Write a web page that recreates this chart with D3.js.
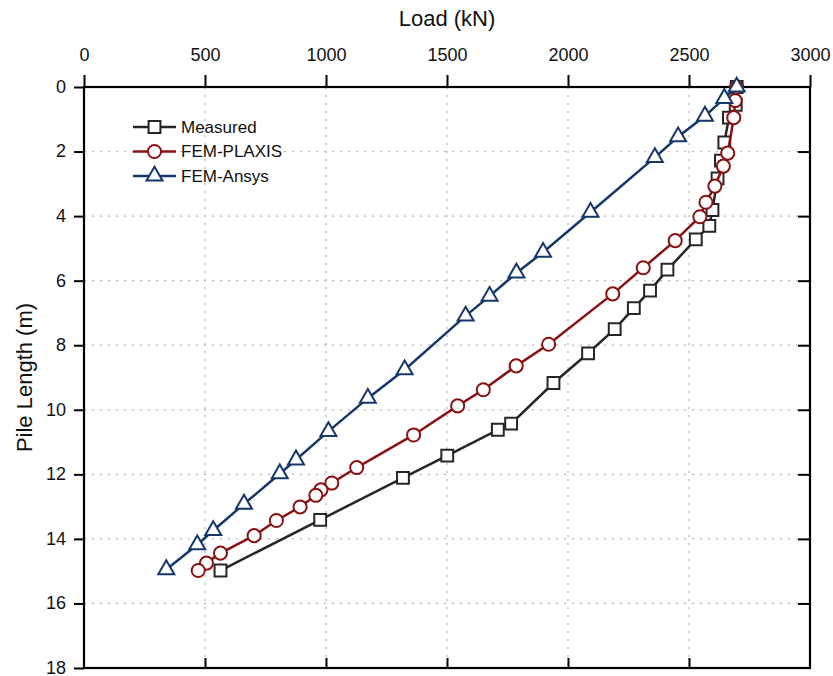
<!DOCTYPE html>
<html>
<head>
<meta charset="utf-8">
<script src="https://cdn.jsdelivr.net/npm/d3@7"></script>
<style>
  body { margin: 0; background: #fff; }
  svg text { font-family: "Liberation Sans", Arial, sans-serif; fill: #111; }
</style>
</head>
<body>
<div id="container"></div>
<script>
/* CONSTANTS AND GLOBALS */
const width = 833,
      height = 676,
      margin = {top: 87, bottom: 8, left: 84, right: 26};

/* DATA  ([load kN, depth m]) */
const measured = [
  [2697, 0], [2693, 0.55], [2665, 0.95], [2646, 1.72], [2632, 2.28], [2618, 2.83],
  [2597, 3.81], [2584, 4.3], [2528, 4.72], [2411, 5.66], [2339, 6.31], [2272, 6.85],
  [2193, 7.5], [2083, 8.25], [1940, 9.17], [1765, 10.43], [1710, 10.62], [1501, 11.42],
  [1318, 12.11], [976, 13.41], [564, 14.98]
];
const plaxis = [
  [2697, 0], [2691, 0.42], [2685, 0.95], [2660, 2.05], [2642, 2.45], [2607, 3.07],
  [2570, 3.57], [2545, 4.02], [2443, 4.76], [2311, 5.6], [2185, 6.41], [1920, 7.97],
  [1786, 8.64], [1650, 9.38], [1544, 9.88], [1362, 10.78], [1127, 11.79], [1024, 12.27],
  [979, 12.48], [958, 12.65], [893, 13.01], [795, 13.43], [703, 13.9], [564, 14.44],
  [506, 14.75], [472, 14.98]
];
const ansys = [
  [2697, 0], [2646, 0.35], [2566, 0.9], [2455, 1.54], [2359, 2.18], [2093, 3.88],
  [1897, 5.12], [1787, 5.76], [1676, 6.48], [1577, 7.09], [1325, 8.76], [1173, 9.64],
  [1010, 10.67], [876, 11.55], [809, 11.98], [661, 12.92], [534, 13.74], [468, 14.18],
  [340, 14.95]
];
const seriesNames = ["Measured", "FEM-PLAXIS", "FEM-Ansys"];
const loadTicks = [0, 500, 1000, 1500, 2000, 2500, 3000];
const depthTicks = [0, 2, 4, 6, 8, 10, 12, 14, 16, 18];

const series = [
  {name: seriesNames[0], values: measured, color: "#262626", symbol: d3.symbolSquare, size: 140},
  {name: seriesNames[1], values: plaxis,   color: "#8a1212", symbol: d3.symbolCircle, size: 135},
  {name: seriesNames[2], values: ansys,    color: "#15386a", symbol: d3.symbolTriangle, size: 110}
];

/* SCALES */
const xScale = d3.scaleLinear()
                 .domain([0, 3000])
                 .range([margin.left, width - margin.right + 3])

const yScale = d3.scaleLinear()
                 .domain([0, 18])
                 .range([margin.top, height - margin.bottom])

/* HTML ELEMENTS */
const svg = d3.select("#container")
              .append("svg")
              .attr("width", width)
              .attr("height", height)

const x0 = xScale(0), x1 = xScale(3000), y0 = yScale(0), y1 = yScale(18);

// grid
svg.append("g")
   .selectAll("line")
   .data(loadTicks.slice(1, -1))
   .join("line")
   .attr("x1", d => xScale(d)).attr("x2", d => xScale(d))
   .attr("y1", y0).attr("y2", y1)
   .attr("stroke", "#b8b8b8").attr("stroke-width", 1.3)
   .attr("stroke-dasharray", "2,6")

svg.append("g")
   .selectAll("line")
   .data(depthTicks.slice(1, -1))
   .join("line")
   .attr("y1", d => yScale(d)).attr("y2", d => yScale(d))
   .attr("x1", x0).attr("x2", x1)
   .attr("stroke", "#b8b8b8").attr("stroke-width", 1.3)
   .attr("stroke-dasharray", "2,6")

// axes
const styleAxis = g => {
  g.select(".domain").remove();
  g.selectAll(".tick line").attr("stroke", "#000").attr("stroke-width", 2);
  g.selectAll(".tick text").style("font-size", "18px").attr("fill", "#111");
}

svg.append("g")
   .attr("transform", `translate(0, ${y0})`)
   .call(d3.axisTop(xScale).tickValues(loadTicks).tickSize(12).tickPadding(14).tickFormat(d3.format("d")))
   .call(styleAxis);

svg.append("g")
   .attr("transform", `translate(0, ${y1})`)
   .call(d3.axisTop(xScale).tickValues(loadTicks.slice(1, -1)).tickSize(10).tickFormat(""))
   .call(styleAxis);

svg.append("g")
   .attr("transform", `translate(${x0}, 0)`)
   .call(d3.axisLeft(yScale).tickValues(depthTicks).tickSize(10).tickPadding(8))
   .call(styleAxis)
   .call(g => g.selectAll(".tick text").attr("dy", "0.3em"));

svg.append("g")
   .attr("transform", `translate(${x1}, 0)`)
   .call(d3.axisLeft(yScale).tickValues(depthTicks.slice(1, -1)).tickSize(12).tickFormat(""))
   .call(styleAxis);

// frame
svg.append("rect")
   .attr("x", x0).attr("y", y0)
   .attr("width", x1 - x0).attr("height", y1 - y0)
   .attr("fill", "none").attr("stroke", "#000").attr("stroke-width", 2.2)

// axis titles
svg.append("text")
   .attr("x", (x0 + x1) / 2).attr("y", 26)
   .attr("text-anchor", "middle")
   .style("font-size", "22px")
   .text("Load (kN)")

svg.append("text")
   .attr("transform", `translate(32, ${(y0 + y1) / 2}) rotate(-90)`)
   .attr("text-anchor", "middle")
   .style("font-size", "22px")
   .text("Pile Length (m)")

// lines + markers
const line = d3.line().x(d => xScale(d[0])).y(d => yScale(d[1]));

series.forEach(s => {
  const g = svg.append("g");
  g.append("path")
   .datum(s.values)
   .attr("d", line)
   .attr("fill", "none")
   .attr("stroke", s.color)
   .attr("stroke-width", 2.5)

  g.selectAll("path.pt")
   .data(s.values)
   .join("path")
   .attr("class", "pt")
   .attr("transform", d => `translate(${xScale(d[0])}, ${yScale(d[1])})`)
   .attr("d", d3.symbol().type(s.symbol).size(s.size))
   .attr("fill", "#fff")
   .attr("stroke", s.color)
   .attr("stroke-width", 2)
});

// legend
const legend = svg.append("g").attr("transform", "translate(133, 127)");
series.forEach((s, i) => {
  const row = legend.append("g").attr("transform", `translate(0, ${i * 24.5})`);
  row.append("line")
     .attr("x1", 0).attr("x2", 43)
     .attr("stroke", s.color).attr("stroke-width", 2.5)
  row.append("path")
     .attr("transform", "translate(21.5, 0)")
     .attr("d", d3.symbol().type(s.symbol).size(s.size))
     .attr("fill", "#fff").attr("stroke", s.color).attr("stroke-width", 2)
  row.append("text")
     .attr("x", 48).attr("dy", "0.35em")
     .style("font-size", "17px")
     .text(s.name)
});
</script>
</body>
</html>
